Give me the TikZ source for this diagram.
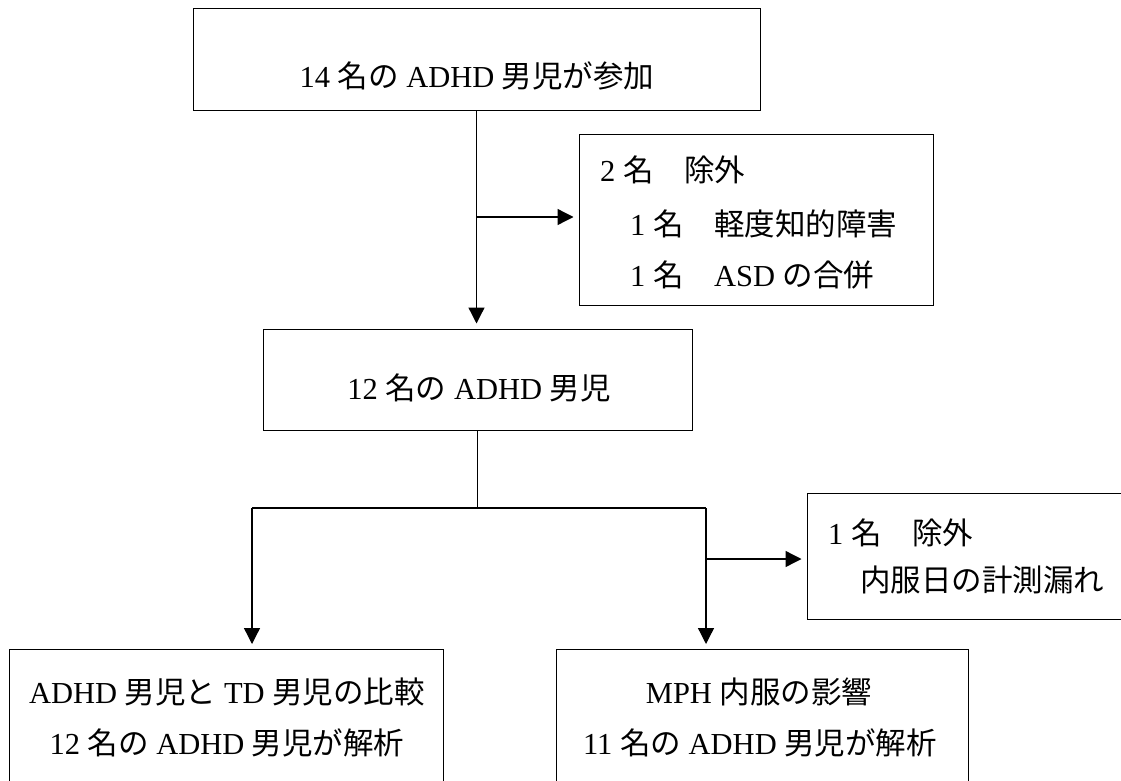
\documentclass[tikz,border=0pt]{standalone}
\usepackage{fontspec}
\setmainfont{Liberation Serif}
\newfontfamily\cjk{Noto Sans CJK JP}
\usetikzlibrary{arrows.meta}
\newcommand\J[1]{{\cjk #1}}
\tikzset{
  box/.style={draw=black, line width=1pt, fill=none, inner sep=0pt},
  txt/.style={font=\fontsize{30.5}{36}\selectfont, inner sep=0pt},
  conn/.style={draw=black, line width=1.3pt},
  arr/.style={conn, -{Triangle[length=16pt,width=16pt]}, shorten >=5pt}
}
\begin{document}
\begin{tikzpicture}[x=1pt,y=-1pt]
\useasboundingbox (0,0) rectangle (1121,781);
\clip (0,0) rectangle (1121,781);
\fill[white] (0,0) rectangle (1121,781);

% boxes
\node[box, minimum width=567pt, minimum height=102pt] (top) at (476.5,60) {};
\node[box, minimum width=354pt, minimum height=170pt] (ex1) at (756,220) {};
\node[box, minimum width=429pt, minimum height=101pt] (mid) at (477.5,379.5) {};
\node[box, minimum width=350pt, minimum height=126pt] (ex2) at (982,556) {};
\node[box, minimum width=434pt, minimum height=160pt, anchor=north] (bl) at (226,649) {};
\node[box, minimum width=412pt, minimum height=160pt, anchor=north] (br) at (762,649) {};

% texts
\node[txt] (ttop) at (477,76) {14 \J{名の} ADHD \J{男児が参加}};
\node[txt, anchor=west] (te1a) at (600,170) {2 \J{名　除外}};
\node[txt, anchor=west] (te1b) at (630,224) {1 \J{名　軽度知的障害}};
\node[txt, anchor=west] (te1c) at (630,275) {1 \J{名}\J{　}ASD \J{の合併}};
\node[txt] (tmid) at (479,388) {12 \J{名の} ADHD \J{男児}};
\node[txt, anchor=west] (te2a) at (828,533) {1 \J{名　除外}};
\node[txt, anchor=west] (te2b) at (860,580) {\J{内服日の計測漏れ}};
\node[txt] (tbl1) at (227,692) {ADHD \J{男児と} TD \J{男児の比較}};
\node[txt] (tbl2) at (227,743) {12 \J{名の} ADHD \J{男児が解析}};
\node[txt] (tbr1) at (759,692) {MPH \J{内服の影響}};
\node[txt] (tbr2) at (760,743) {11 \J{名の} ADHD \J{男児が解析}};

% connectors
\coordinate (j1) at (477,217);
\coordinate (jm) at (477.5,508);
\coordinate (jl) at (252,508);
\coordinate (jr) at (706,508);
\coordinate (j3) at (706,559);
\draw[arr] (top.south) -- (top.south |- mid.north);
\draw[arr] (j1) -- (j1 -| ex1.west);
\draw[conn] (mid.south) -- (jm);
\draw[conn] (jl) -- (jr);
\draw[arr] (jl) -- (jl |- bl.north);
\draw[arr] (jr) -- (jr |- br.north);
\draw[arr] (j3) -- (j3 -| ex2.west);
\end{tikzpicture}
\end{document}
